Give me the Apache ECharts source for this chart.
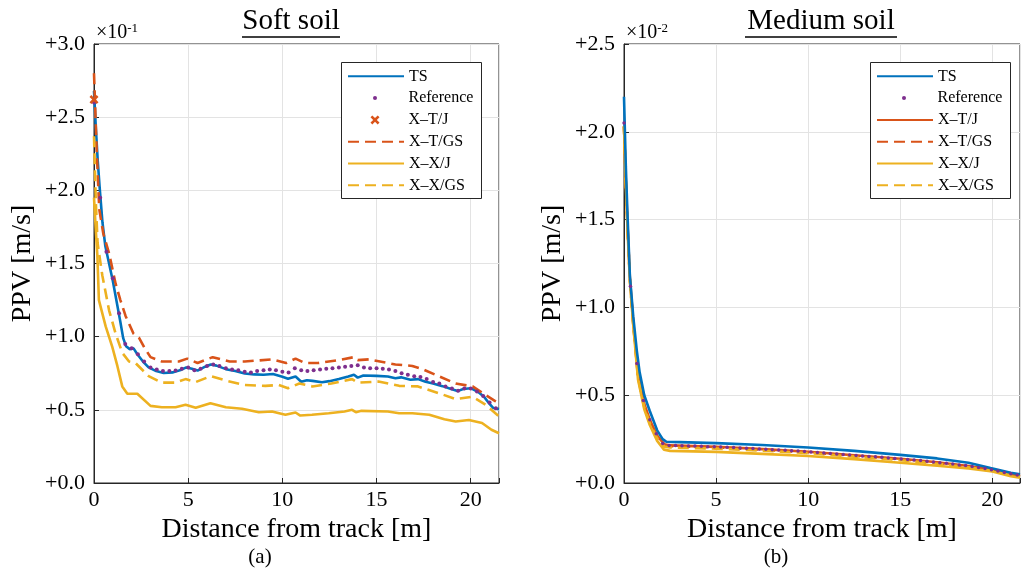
<!DOCTYPE html>
<html>
<head>
<meta charset="utf-8">
<script src="https://cdn.jsdelivr.net/npm/echarts@6/dist/echarts.min.js"></script>
<style>html,body{margin:0;padding:0;background:#fff;}#c{width:1023px;height:574px;}</style>
</head>
<body>
<div id="c"></div>
<script>
// ---------- DATA ----------
const xTicks = [0, 5, 10, 15, 20];
const softYTicks = [0, 0.5, 1.0, 1.5, 2.0, 2.5, 3.0];     // ×10^-1 m/s
const mediumYTicks = [0, 0.5, 1.0, 1.5, 2.0, 2.5];        // ×10^-2 m/s
const seriesNames = ['TS', 'Reference', 'X–T/J', 'X–T/GS', 'X–X/J', 'X–X/GS'];

// Soft soil  [distance m, PPV ×10^-1 m/s]
const softTS = [[0,2.68],[0.1,2.42],[0.2,2.2],[0.3,2.02],[0.45,1.78],[0.6,1.62],[0.8,1.5],[1.0,1.38],[1.2,1.24],[1.4,1.1],[1.55,0.99],[1.7,0.935],[1.9,0.915],[2.1,0.92],[2.3,0.88],[2.6,0.83],[2.9,0.79],[3.3,0.765],[3.7,0.752],[4.2,0.756],[4.6,0.772],[4.9,0.79],[5.2,0.78],[5.5,0.768],[5.9,0.795],[6.2,0.81],[6.5,0.802],[7.0,0.778],[7.5,0.765],[8.0,0.748],[8.5,0.742],[9.0,0.74],[9.5,0.745],[10.0,0.726],[10.3,0.712],[10.7,0.728],[11.0,0.692],[11.3,0.702],[11.6,0.698],[12.1,0.688],[12.5,0.696],[13.0,0.71],[13.5,0.728],[13.8,0.74],[14.0,0.72],[14.3,0.735],[15.0,0.732],[15.6,0.728],[16.0,0.716],[16.3,0.722],[16.8,0.706],[17.2,0.71],[17.6,0.692],[18.0,0.68],[18.5,0.662],[19.0,0.64],[19.3,0.628],[19.6,0.642],[20.0,0.648],[20.4,0.622],[20.7,0.59],[21.0,0.54],[21.2,0.512],[21.5,0.505]];
const softRef = [[0,2.6],[0.33,1.95],[0.66,1.58],[1.0,1.4],[1.33,1.16],[1.66,0.95],[2.0,0.92],[2.33,0.88],[2.66,0.83],[3.0,0.79],[3.33,0.775],[3.66,0.765],[4.0,0.765],[4.33,0.768],[4.66,0.78],[5.0,0.79],[5.33,0.77],[5.66,0.78],[6.0,0.8],[6.33,0.81],[6.66,0.8],[7.0,0.785],[7.33,0.775],[7.66,0.77],[8.0,0.76],[8.33,0.755],[8.66,0.765],[9.0,0.77],[9.33,0.775],[9.66,0.77],[10.0,0.76],[10.33,0.755],[10.66,0.785],[11.0,0.77],[11.33,0.765],[11.66,0.77],[12.0,0.775],[12.33,0.78],[12.66,0.785],[13.0,0.79],[13.33,0.795],[13.66,0.8],[14.0,0.805],[14.33,0.79],[14.66,0.785],[15.0,0.785],[15.33,0.78],[15.66,0.775],[16.0,0.765],[16.33,0.75],[16.66,0.74],[17.0,0.73],[17.33,0.725],[17.66,0.71],[18.0,0.69],[18.33,0.68],[18.66,0.66],[19.0,0.645],[19.33,0.63],[19.66,0.645],[20.0,0.645],[20.33,0.625],[20.66,0.595],[21.0,0.55],[21.33,0.51]];
const softXTJ = [[0,2.62]];
const softXTGS = [[0,2.8],[0.15,2.25],[0.28,1.87],[0.5,1.7],[0.8,1.57],[1.0,1.45],[1.15,1.36],[1.4,1.25],[1.68,1.14],[2.1,1.02],[2.4,0.99],[2.7,0.92],[3.0,0.86],[3.6,0.83],[4.5,0.83],[4.95,0.85],[5.5,0.82],[6.3,0.86],[7.2,0.83],[8.0,0.83],[9.45,0.845],[10.2,0.82],[10.7,0.85],[11.2,0.82],[11.9,0.82],[13.0,0.84],[13.8,0.86],[14.0,0.84],[14.6,0.845],[16.0,0.81],[16.9,0.8],[17.4,0.78],[18.3,0.73],[19.2,0.68],[20.1,0.66],[20.8,0.6],[21.3,0.56],[21.5,0.545]];
const softXXJ = [[0,1.95],[0.1,1.72],[0.18,1.55],[0.26,1.25],[0.62,1.07],[0.97,0.93],[1.24,0.8],[1.5,0.66],[1.77,0.61],[2.3,0.61],[3.0,0.527],[3.6,0.518],[4.33,0.518],[4.86,0.534],[5.4,0.514],[6.18,0.545],[7.0,0.518],[7.86,0.507],[8.75,0.484],[9.45,0.489],[10.16,0.466],[10.7,0.482],[10.95,0.461],[11.57,0.466],[12.46,0.477],[13.3,0.489],[13.7,0.5],[13.9,0.484],[14.2,0.493],[15.6,0.489],[16.2,0.477],[16.9,0.477],[17.8,0.466],[18.6,0.436],[19.2,0.42],[19.9,0.43],[20.6,0.41],[21.1,0.364],[21.5,0.34]];
const softXXGS = [[0,2.37],[0.1,1.91],[0.19,1.64],[0.44,1.42],[0.8,1.18],[1.15,1.02],[1.5,0.89],[1.86,0.83],[2.2,0.82],[2.9,0.73],[3.6,0.686],[4.33,0.686],[4.86,0.71],[5.4,0.69],[6.2,0.73],[7.0,0.7],[8.0,0.67],[9.1,0.664],[9.8,0.67],[10.3,0.648],[10.9,0.68],[11.6,0.66],[12.6,0.68],[13.7,0.71],[14.0,0.686],[15.1,0.693],[16.2,0.664],[17.2,0.66],[18.3,0.614],[19.2,0.573],[20.1,0.59],[20.8,0.534],[21.5,0.455]];

// Medium soil  [distance m, PPV ×10^-2 m/s]
const medTS = [[0,2.2],[0.1,1.8],[0.2,1.5],[0.32,1.18],[0.5,0.95],[0.7,0.75],[0.85,0.63],[1.1,0.5],[1.4,0.41],[1.8,0.3],[2.1,0.25],[2.3,0.235],[3,0.233],[5,0.227],[7.5,0.216],[10,0.202],[12.5,0.183],[15,0.16],[17,0.14],[18.7,0.115],[19.9,0.085],[21,0.058],[21.5,0.05]];
const medRef = [[0,2.05],[0.35,1.12],[0.7,0.68],[1.05,0.47],[1.4,0.36],[1.75,0.28],[2.1,0.225],[2.45,0.214],[2.8,0.213],[3.15,0.212],[3.5,0.211],[3.85,0.21],[4.2,0.209],[4.55,0.207],[4.9,0.206],[5.25,0.205],[5.6,0.203],[5.95,0.202],[6.3,0.2],[6.65,0.198],[7.0,0.196],[7.35,0.194],[7.7,0.192],[8.05,0.19],[8.4,0.188],[8.75,0.186],[9.1,0.184],[9.45,0.182],[9.8,0.18],[10.15,0.177],[10.5,0.174],[10.85,0.171],[11.2,0.168],[11.55,0.165],[11.9,0.162],[12.25,0.16],[12.6,0.157],[12.95,0.154],[13.3,0.151],[13.65,0.149],[14.0,0.146],[14.35,0.143],[14.7,0.14],[15.05,0.137],[15.4,0.134],[15.75,0.131],[16.1,0.128],[16.45,0.124],[16.8,0.12],[17.15,0.116],[17.5,0.112],[17.85,0.108],[18.2,0.103],[18.55,0.099],[18.9,0.094],[19.25,0.088],[19.6,0.082],[19.95,0.075],[20.3,0.068],[20.65,0.06],[21.0,0.052],[21.35,0.045]];
const medXTJ = [[0,2.03],[0.1,1.72],[0.2,1.45],[0.32,1.17],[0.5,0.92],[0.76,0.62],[1.1,0.45],[1.4,0.36],[1.8,0.27],[2.2,0.22],[2.5,0.214],[5,0.206],[7.5,0.193],[10,0.178],[12.5,0.158],[15,0.138],[17,0.118],[18.7,0.097],[20,0.075],[21,0.05],[21.5,0.04]];
const medXTGS = [[0,2.03],[0.1,1.71],[0.2,1.44],[0.32,1.16],[0.5,0.91],[0.76,0.61],[1.1,0.44],[1.4,0.35],[1.8,0.265],[2.2,0.215],[2.5,0.21],[5,0.203],[7.5,0.19],[10,0.175],[12.5,0.155],[15,0.135],[17,0.115],[18.7,0.094],[20,0.072],[21,0.048],[21.5,0.038]];
const medXXJ = [[0,2.03],[0.1,1.7],[0.2,1.42],[0.32,1.15],[0.5,0.9],[0.76,0.59],[1.1,0.42],[1.4,0.33],[1.8,0.24],[2.17,0.19],[2.5,0.183],[5,0.177],[7.5,0.166],[10,0.154],[12.5,0.136],[15,0.115],[17,0.098],[18.7,0.083],[20,0.065],[21,0.038],[21.5,0.03]];
const medXXGS = [[0,2.03],[0.1,1.7],[0.2,1.43],[0.32,1.155],[0.5,0.905],[0.76,0.6],[1.1,0.43],[1.4,0.34],[1.8,0.255],[2.2,0.207],[2.5,0.202],[5,0.196],[7.5,0.184],[10,0.17],[12.5,0.15],[15,0.13],[17,0.11],[18.7,0.09],[20,0.069],[21,0.045],[21.5,0.036]];

// ---------- STYLE ----------
const FONT = '"Liberation Serif", "Times New Roman", serif';
const C = { blue: '#0072BD', orange: '#D95319', yellow: '#EDB120', purple: '#7E2F8E' };
const AX = '#262626';
const LW = 2.6;
const DASH = [11, 6];
const CROSS = 'path://M0,2 L2,0 L5,3 L8,0 L10,2 L7,5 L10,8 L8,10 L5,7 L2,10 L0,8 L3,5 Z';

function xAxisCfg(gi) {
  return {
    type: 'value', gridIndex: gi, min: 0, max: 21.5, interval: 5,
    name: 'Distance from track [m]', nameLocation: 'middle', nameGap: 33,
    nameTextStyle: { fontFamily: FONT, fontSize: 28, color: '#000' },
    axisLine: { show: true, lineStyle: { color: AX, width: 1 } },
    axisTick: { show: true, inside: true, length: 5, lineStyle: { color: AX } },
    axisLabel: { fontFamily: FONT, fontSize: 22, color: '#000', margin: 6,
      formatter: v => (xTicks.indexOf(v) >= 0 ? String(v) : '') },
    splitLine: { show: true, lineStyle: { color: '#e3e3e3', width: 1 } }
  };
}
function yAxisCfg(gi, ticks) {
  return {
    type: 'value', gridIndex: gi, min: 0, max: ticks[ticks.length - 1], interval: 0.5,
    name: 'PPV [m/s]', nameLocation: 'middle', nameGap: 57,
    nameTextStyle: { fontFamily: FONT, fontSize: 28, color: '#000' },
    axisLine: { show: true, lineStyle: { color: AX, width: 1 } },
    axisTick: { show: true, inside: true, length: 5, lineStyle: { color: AX } },
    axisLabel: { fontFamily: FONT, fontSize: 22, color: '#000', margin: 9,
      formatter: v => '+' + v.toFixed(1) },
    splitLine: { show: true, lineStyle: { color: '#e3e3e3', width: 1 } }
  };
}
function line(name, gi, data, color, dashed) {
  return { type: 'line', name, xAxisIndex: gi, yAxisIndex: gi, data, symbol: 'none',
    lineStyle: { color, width: LW, type: dashed ? DASH : 'solid' }, itemStyle: { color },
    silent: true, animation: false, z: 3 };
}
function dots(name, gi, data, color, symbol, size) {
  return { type: 'scatter', name, xAxisIndex: gi, yAxisIndex: gi, data, symbol, symbolSize: size,
    itemStyle: { color, opacity: 1 }, silent: true, animation: false, z: 4 };
}

// suffix distinguishes the right-hand panel's series; legend formatter trims it
const R = ' ';
const series = [
  line('TS', 0, softTS, C.blue, false),
  dots('Reference', 0, softRef, C.purple, 'circle', 4),
  dots('X–T/J', 0, softXTJ, C.orange, CROSS, 9),
  line('X–T/GS', 0, softXTGS, C.orange, true),
  line('X–X/J', 0, softXXJ, C.yellow, false),
  line('X–X/GS', 0, softXXGS, C.yellow, true),
  line('X–T/J' + R, 1, medXTJ, C.orange, false),
  line('X–T/GS' + R, 1, medXTGS, C.orange, true),
  line('X–X/J' + R, 1, medXXJ, C.yellow, false),
  line('X–X/GS' + R, 1, medXXGS, C.yellow, true),
  dots('Reference' + R, 1, medRef, C.purple, 'circle', 3.5),
  line('TS' + R, 1, medTS, C.blue, false)
];

const legendRows = [76.3, 98.1, 119.9, 141.7, 163.5, 185.3];
const legends = [];
// iconLeft: left of line sample; text always starts 61px after it
function addLegend(name, iconLeft, cy, marker) {
  const base = { show: true, data: [name], top: cy - 8, orient: 'horizontal', itemGap: 0, padding: 0,
    selectedMode: false, formatter: n => n.trim() };
  if (marker) {
    const h = marker;
    legends.push(Object.assign(base, { left: iconLeft + 28 - h / 2, itemWidth: h, itemHeight: h,
      itemStyle: { opacity: 1 },
      textStyle: { fontFamily: FONT, fontSize: 16, color: '#000', padding: [0, 0, 0, 56 - h - (28 - h / 2) + 0.5] } }));
  } else {
    legends.push(Object.assign(base, { left: iconLeft, itemWidth: 56, itemHeight: 6,
      itemStyle: { opacity: 0 },
      textStyle: { fontFamily: FONT, fontSize: 16, color: '#000' } }));
  }
}
const softMarker = [0, 4, 9, 0, 0, 0];
const medMarker = [0, 4, 0, 0, 0, 0];
seriesNames.forEach((n, i) => {
  addLegend(n, 347, legendRows[i], softMarker[i]);
  addLegend(n + R, 876, legendRows[i], medMarker[i]);
});

const txt = (x, y, text, size, align) => ({ type: 'text', x, y, z: 10, silent: true,
  style: { text, fontFamily: FONT, fontSize: size, fill: '#000', align: align || 'center', verticalAlign: 'middle' } });
const exp = (x, y, e) => ({ type: 'text', x, y, z: 10, silent: true,
  style: { text: '{a|×10}{b|' + e + '}', fontFamily: FONT, fill: '#000', align: 'left', verticalAlign: 'middle',
    rich: { a: { fontFamily: FONT, fontSize: 20, fill: '#000' }, b: { fontFamily: FONT, fontSize: 13, fill: '#000', verticalAlign: 'top', padding: [0, 0, 9, 0] } } } });
const uline = (x1, x2, y) => ({ type: 'line', z: 10, silent: true, shape: { x1, y1: y, x2, y2: y }, style: { stroke: '#000', lineWidth: 1.3 } });
const box = (x, y, w, h) => ({ type: 'rect', z: 3, silent: true, shape: { x, y, width: w, height: h }, style: { fill: '#fff', stroke: AX, lineWidth: 1 } });

const option = {
  animation: false,
  backgroundColor: '#fff',
  grid: [
    { left: 94, top: 44, width: 405, height: 439, show: true, borderColor: AX, borderWidth: 1, backgroundColor: 'transparent' },
    { left: 624, top: 44, width: 404, height: 439, show: true, borderColor: AX, borderWidth: 1, backgroundColor: 'transparent' }
  ],
  xAxis: [xAxisCfg(0), xAxisCfg(1)],
  yAxis: [yAxisCfg(0, softYTicks), yAxisCfg(1, mediumYTicks)],
  legend: legends,
  series,
  graphic: [
    box(341.5, 62.5, 140, 136),
    box(870.5, 62.5, 140, 136),
    txt(291, 21, 'Soft soil', 29),
    uline(242, 340, 37),
    txt(821, 21, 'Medium soil', 29),
    uline(745, 897, 37),
    exp(96, 33, '-1'),
    exp(626, 33, '-2'),
    txt(260, 557, '(a)', 21),
    txt(776, 557, '(b)', 21)
  ]
};
echarts.init(document.getElementById('c'), null, { renderer: 'canvas' }).setOption(option);
</script>
</body>
</html>
